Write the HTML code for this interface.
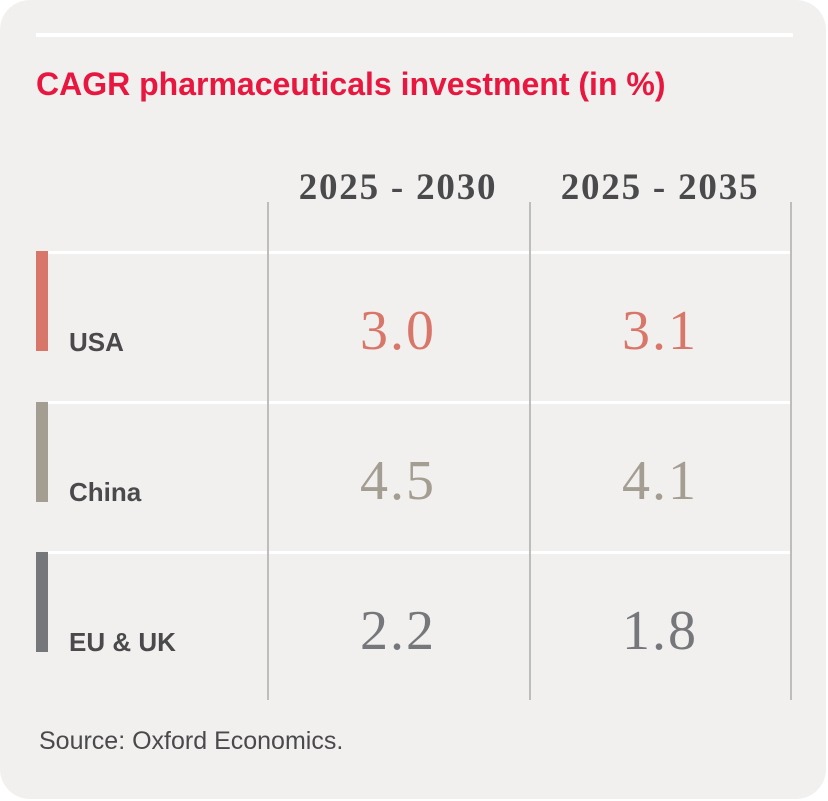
<!DOCTYPE html>
<html><head><meta charset="utf-8"><style>
html,body{margin:0;padding:0;background:#fff;}
body{width:828px;height:801px;position:relative;overflow:hidden;}
.card{position:absolute;left:0;top:0;width:826px;height:799px;background:#f1f0ee;border-radius:30px;}
.abs{position:absolute;}
.hl{position:absolute;height:3px;background:#fff;}
.vl{position:absolute;width:2px;background:#bdbdbb;top:202px;height:498px;}
.bar{position:absolute;left:36px;width:12px;height:100px;}
.lab{position:absolute;left:69px;font:bold 26px "Liberation Sans",sans-serif;color:#4a4a4c;}
.hd{position:absolute;width:262px;text-align:center;font:bold 37px "Liberation Serif",serif;color:#4a4a4c;top:166px;letter-spacing:1.8px;}
.v{position:absolute;width:262px;text-align:center;font:normal 56px "Liberation Serif",serif;letter-spacing:2px;}
</style></head><body>
<div class="card">
<div class="hl" style="left:36px;top:33px;width:757px;height:4px"></div>
<div class="abs" style="left:36px;top:66px;font:bold 32px 'Liberation Sans',sans-serif;color:#e8173f;">CAGR pharmaceuticals investment (in %)</div>
<div class="hd" style="left:267px">2025 - 2030</div>
<div class="hd" style="left:529px">2025 - 2035</div>
<div class="hl" style="left:48px;top:251px;width:742px"></div>
<div class="hl" style="left:48px;top:401px;width:742px"></div>
<div class="hl" style="left:48px;top:551px;width:742px"></div>
<div class="vl" style="left:267px"></div>
<div class="vl" style="left:529px"></div>
<div class="vl" style="left:790px"></div>
<div class="bar" style="top:251px;background:#d9766a"></div>
<div class="bar" style="top:402px;background:#a49d92"></div>
<div class="bar" style="top:552px;background:#76777b"></div>
<div class="lab" style="top:327px">USA</div>
<div class="lab" style="top:477px">China</div>
<div class="lab" style="top:627px">EU &amp; UK</div>
<div class="v" style="left:267px;top:299px;color:#d9766a">3.0</div>
<div class="v" style="left:529px;top:299px;color:#d9766a">3.1</div>
<div class="v" style="left:267px;top:449px;color:#a49d92">4.5</div>
<div class="v" style="left:529px;top:449px;color:#a49d92">4.1</div>
<div class="v" style="left:267px;top:599px;color:#76777b">2.2</div>
<div class="v" style="left:529px;top:599px;color:#76777b">1.8</div>
<div class="abs" style="left:39px;top:727px;font:25px 'Liberation Sans',sans-serif;color:#4a4a4c;">Source: Oxford Economics.</div>
</div>
</body></html>
